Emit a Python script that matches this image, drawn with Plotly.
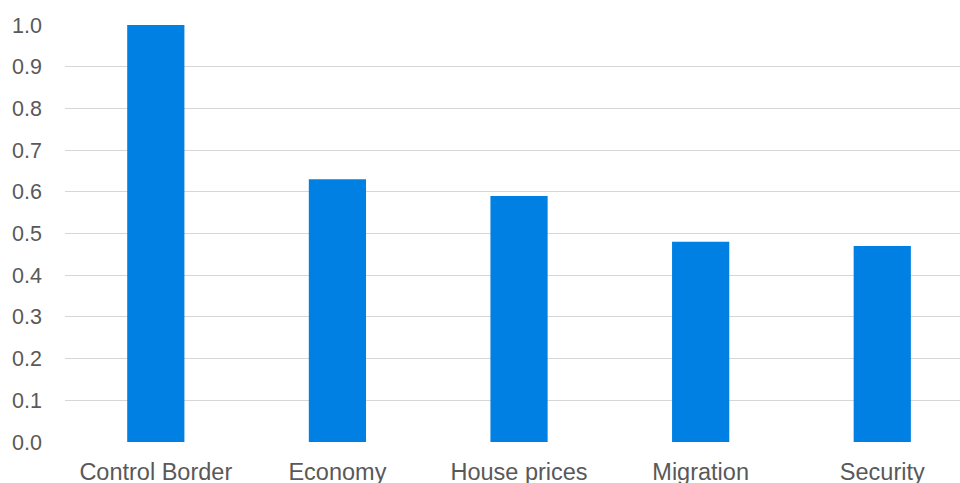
import plotly.graph_objects as go

categories = ["Control Border", "Economy", "House prices", "Migration", "Security"]
values = [1.0, 0.63, 0.59, 0.48, 0.47]
y_ticks = [0.0, 0.1, 0.2, 0.3, 0.4, 0.5, 0.6, 0.7, 0.8, 0.9, 1.0]
y_tick_labels = [f"{v:.1f}" for v in y_ticks]

fig = go.Figure(
    go.Bar(
        x=list(range(len(categories))),
        y=values,
        marker=dict(color="#0080E2", line=dict(width=0)),
        width=0.315,
    )
)

fig.update_layout(
    width=960,
    height=483,
    margin=dict(l=65, r=0, t=25, b=41),
    paper_bgcolor="white",
    plot_bgcolor="white",
    showlegend=False,
    font=dict(family="Liberation Sans, Arial, sans-serif", color="#595959", size=21),
)

fig.update_xaxes(
    tickmode="array",
    tickvals=list(range(len(categories))),
    ticktext=categories,
    range=[-0.5, 4.428],
    showgrid=False,
    zeroline=False,
    showline=False,
    ticks="",
    tickfont=dict(size=23.5),
    ticklabelstandoff=13,
    automargin=False,
)

fig.update_yaxes(
    range=[0, 1.0],
    tickmode="array",
    tickvals=y_ticks,
    ticktext=y_tick_labels,
    showgrid=True,
    gridcolor="#D6D6D6",
    gridwidth=1.4,
    zeroline=False,
    showline=False,
    ticks="",
    tickfont=dict(size=21.5),
    ticklabelstandoff=22,
    automargin=False,
)

fig.write_html(
    "out.html",
    config={"displayModeBar": False},
    post_script="document.body.style.margin='0';document.body.style.overflow='hidden';",
)
